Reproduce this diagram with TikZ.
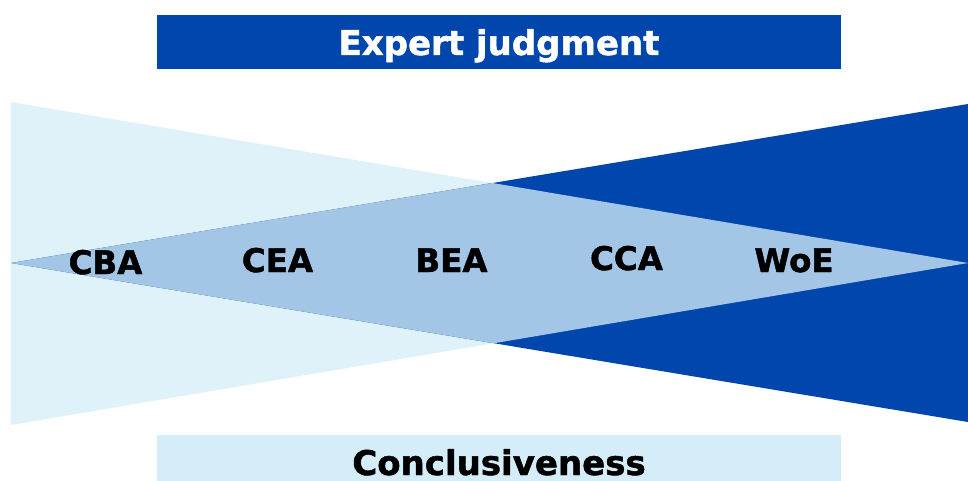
\documentclass[tikz,border=0pt]{standalone}
\usepackage{fontspec}
\setmainfont{DejaVu Sans}[BoldFeatures={FakeBold=1.4}]
\definecolor{navy}{HTML}{0046AD}
\definecolor{pale}{HTML}{DFF2FA}
\definecolor{mid}{HTML}{A4C6E6}
\definecolor{paleband}{HTML}{D5ECF9}
\tikzset{
  header/.style={anchor=base, font=\bfseries\fontsize{34}{40}\selectfont, inner sep=0pt},
  method/.style={anchor=base, font=\bfseries\fontsize{32.5}{38}\selectfont, inner sep=0pt, text=black},
}
\begin{document}
\begin{tikzpicture}[x=1pt, y=-1pt]
  \useasboundingbox (0,0) rectangle (968,481);

  % funnel corners
  \coordinate (LT) at (11,102);
  \coordinate (LB) at (11,425);
  \coordinate (LA) at (968,263);
  \coordinate (RT) at (968,104);
  \coordinate (RB) at (968,422);
  \coordinate (RA) at (11,263);

  % widening / narrowing wedges
  \fill[pale] (LT) -- (LB) -- (LA) -- cycle;
  \fill[navy] (RT) -- (RB) -- (RA) -- cycle;
  \begin{scope}
    \clip (LT) -- (LB) -- (LA) -- cycle;
    \fill[mid] (RT) -- (RB) -- (RA) -- cycle;
  \end{scope}

  % top and bottom bands
  \fill[navy] (157,15) rectangle (841,69);
  \node[header, text=white] (expert) at (499,55) {Expert judgment};
  \fill[paleband] (157,435) rectangle (841,481);
  \node[header, text=black] (concl) at (499,475) {Conclusiveness};

  % methods along the axis
  \node[method] (cba) at (105.5,274) {CBA};
  \node[method] (cea) at (277.5,272) {CEA};
  \node[method] (bea) at (451.5,272) {BEA};
  \node[method] (cca) at (626.5,270) {CCA};
  \node[method] (woe) at (794,272) {WoE};
\end{tikzpicture}
\end{document}
